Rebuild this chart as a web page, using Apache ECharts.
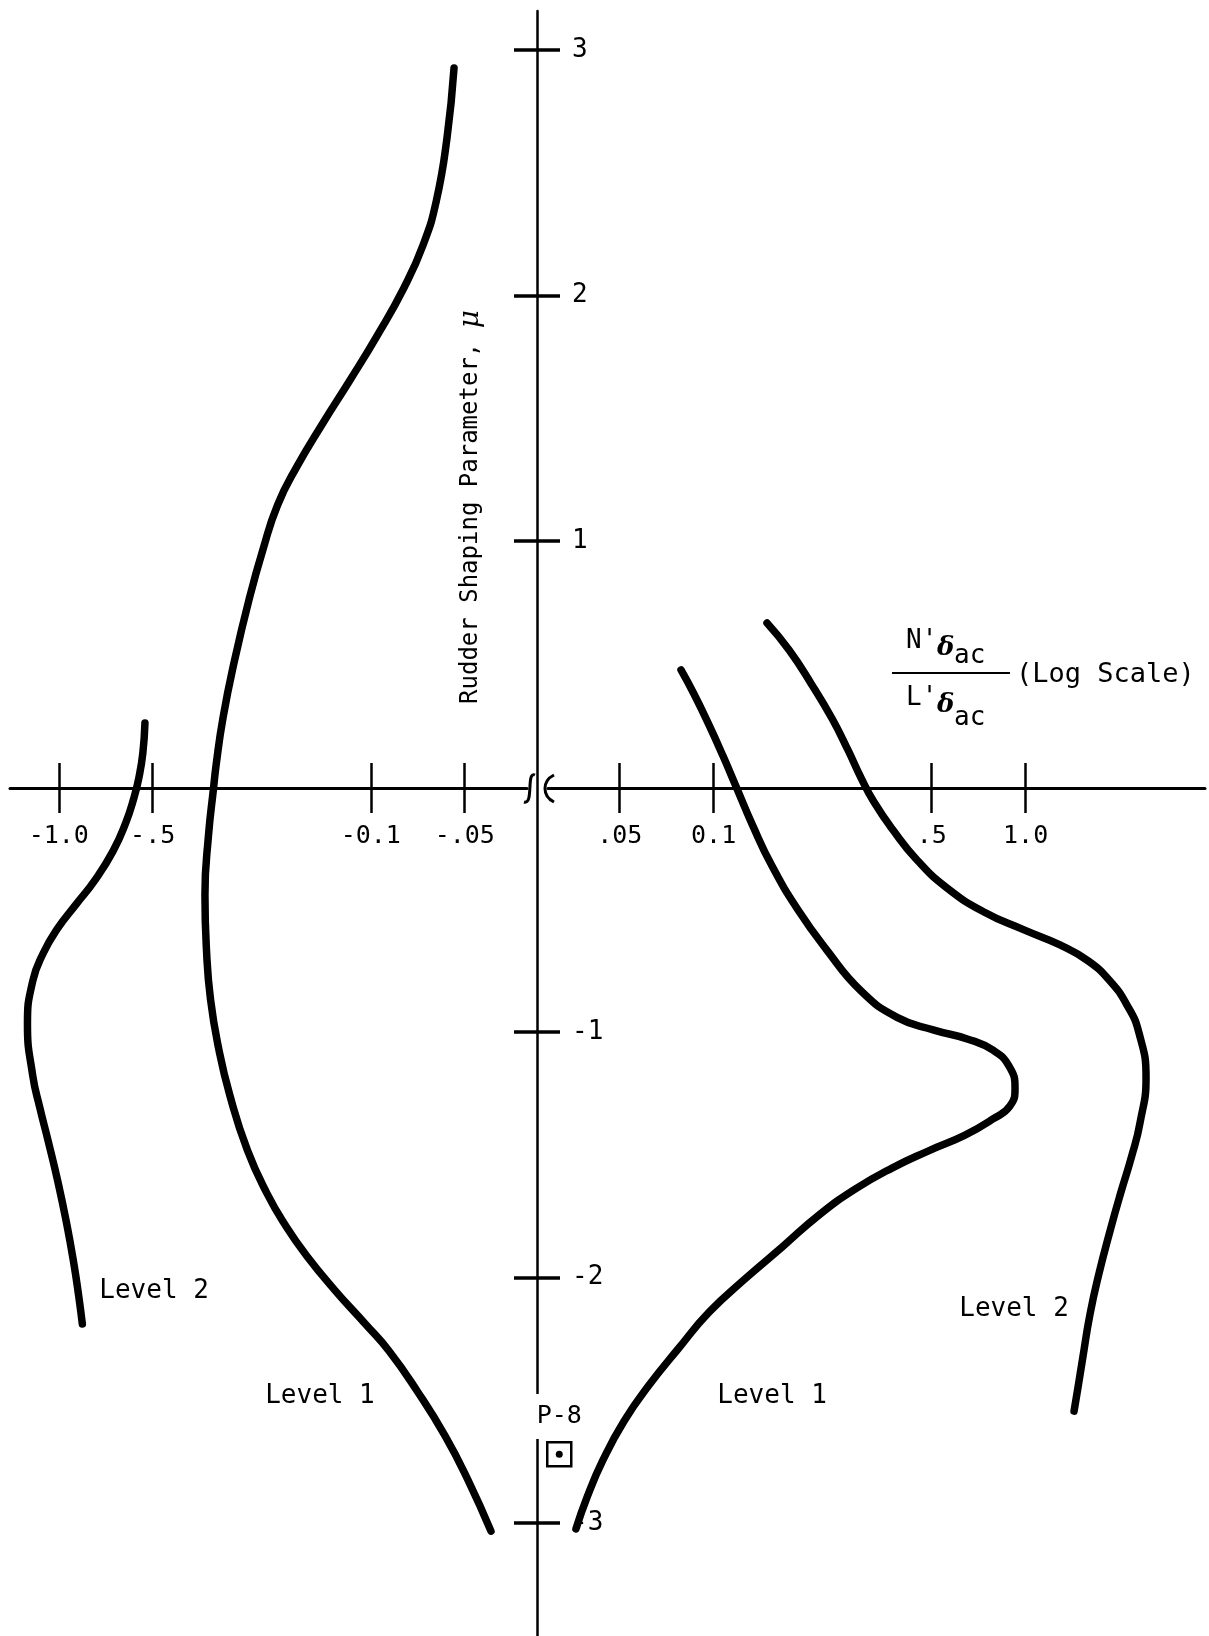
<!DOCTYPE html>
<html><head><meta charset="utf-8">
<script src="https://cdn.jsdelivr.net/npm/echarts@6/dist/echarts.min.js"></script>
<style>html,body{margin:0;padding:0;background:#fff}#c{width:1209px;height:1636px}</style>
</head><body><div id="c"></div>
<script>
// ---- tick values / labels ----
const xTicksNeg = [-1.0, -0.5, -0.1, -0.05];
const xTickLabelsNeg = ['-1.0', '-.5', '-0.1', '-.05'];
const xTicksPos = [0.05, 0.1, 0.5, 1.0];
const xTickLabelsPos = ['.05', '0.1', '.5', '1.0'];
const yTicks = [-3, -2, -1, 1, 2, 3];
const yTickLabels = ['-3', '-2', '-1', '1', '2', '3'];

// axis ranges (ratio N'δac/L'δac, log scale; μ)
const xRangeNeg = [-1.433, -0.03158];
const xRangePos = [0.02945, 3.758];
const yRange = [-3.46, 3.159];

// ---- boundary curves: x = N'δac/L'δac, y = μ ----
const level2LeftX = [-0.5294, -0.5377, -0.5538, -0.5745, -0.6105, -0.67, -0.7654, -0.8789, -1.0111, -1.1205, -1.2115, -1.2597, -1.2126, -1.149, -1.0831, -1.0074, -0.9454, -0.8952, -0.864, -0.8402];
const level2LeftY = [0.259, 0.136, 0.035, -0.047, -0.149, -0.263, -0.381, -0.479, -0.58, -0.678, -0.792, -0.967, -1.175, -1.31, -1.44, -1.607, -1.774, -1.941, -2.071, -2.189];

const level1LeftX = [-0.05411, -0.05699, -0.06167, -0.06798, -0.07834, -0.09559, -0.1165, -0.1423, -0.1729, -0.1989, -0.2214, -0.2444, -0.2732, -0.2977, -0.3134, -0.3191, -0.3312, -0.34, -0.3362, -0.3264, -0.3075, -0.2825, -0.2486, -0.2154, -0.1863, -0.1604, -0.1305, -0.1041, -0.0874, -0.0707, -0.0578, -0.0488, -0.0412];
const level1LeftY = [2.927, 2.642, 2.385, 2.206, 2.031, 1.835, 1.656, 1.481, 1.301, 1.147, 0.967, 0.772, 0.515, 0.279, 0.084, -0.006, -0.198, -0.442, -0.666, -0.866, -1.065, -1.261, -1.481, -1.656, -1.794, -1.912, -2.051, -2.189, -2.299, -2.466, -2.645, -2.825, -3.033];

const level1RightX = [0.0786, 0.0865, 0.0967, 0.1072, 0.1189, 0.1328, 0.1539, 0.1865, 0.2293, 0.2969, 0.3871, 0.5085, 0.6537, 0.7861, 0.8847, 0.9248, 0.8913, 0.7861, 0.6393, 0.4867, 0.373, 0.284, 0.2177, 0.1657, 0.127, 0.0967, 0.0769, 0.0621, 0.0516, 0.0442, 0.0393, 0.0362];
const level1RightY = [0.475, 0.377, 0.25, 0.124, -0.01, -0.153, -0.324, -0.503, -0.662, -0.833, -0.94, -0.992, -1.029, -1.074, -1.139, -1.228, -1.301, -1.354, -1.42, -1.485, -1.554, -1.64, -1.745, -1.876, -2.002, -2.141, -2.291, -2.438, -2.585, -2.743, -2.894, -3.024];

const level2RightX = [0.1483, 0.1745, 0.2052, 0.2396, 0.2697, 0.2969, 0.3266, 0.3758, 0.4486, 0.5598, 0.7356, 0.9882, 1.2888, 1.586, 1.8644, 2.1135, 2.309, 2.432, 2.3261, 2.1928, 2.0218, 1.8644, 1.7196, 1.6085, 1.5276, 1.4724, 1.4296];
const level2RightY = [0.666, 0.556, 0.42, 0.277, 0.148, 0.035, -0.063, -0.177, -0.299, -0.413, -0.511, -0.584, -0.645, -0.71, -0.792, -0.89, -1.004, -1.187, -1.37, -1.501, -1.651, -1.81, -1.982, -2.149, -2.32, -2.446, -2.544];

// data point P-8
const p8X = [0.032];
const p8Y = [-2.72];
const p8Name = ['P-8'];

// region labels
const regionText = ['Level 2', 'Level 1', 'Level 1', 'Level 2'];
const regionX = [-0.495, -0.1455, 0.1539, 0.918];
const regionY = [-2.055, -2.483, -2.483, -2.128];

// ---- helpers ----
const FONT = '"DejaVu Sans Mono", "Liberation Mono", monospace';
const L = v => Math.log10(Math.abs(v));
const pairs = (xs, ys) => xs.map((x, i) => [L(x), ys[i]]);
const fmt = (ticks, labels, tf) => v => {
  for (let i = 0; i < ticks.length; i++) if (Math.abs(tf(ticks[i]) - v) < 1e-6) return labels[i];
  return '';
};
const negL = xTicksNeg.map(L), posL = xTicksPos.map(L);

const tickStyle = {color: '#000', width: 2.5};
function xAxes(grid, range, inverse, tv, ticks, labels) {
  const a = L(range[0]), b = L(range[1]);
  const base = {
    gridIndex: grid, type: 'value', inverse: inverse,
    min: Math.min(a, b), max: Math.max(a, b),
    splitLine: {show: false}
  };
  return [
    Object.assign({}, base, {
      position: 'bottom', offset: -848,
      axisLine: {show: true, onZero: false, lineStyle: {color: '#000', width: 3}},
      axisTick: {show: true, customValues: tv, length: 25, lineStyle: tickStyle},
      axisLabel: {show: true, customValues: tv, formatter: fmt(ticks, labels, L), margin: 36,
                  fontSize: 25, fontFamily: FONT, color: '#000'}
    }),
    Object.assign({}, base, {
      position: 'top', offset: -777,
      axisLine: {show: false, onZero: false},
      axisTick: {show: true, customValues: tv, length: 25, lineStyle: tickStyle},
      axisLabel: {show: false}
    })
  ];
}

const chart = echarts.init(document.getElementById('c'), null, {renderer: 'canvas'});
const lineStyle = {color: '#000', width: 7.5, cap: 'round', join: 'round'};
const curve = (name, xs, ys, xi, yi) => ({
  name, type: 'line', xAxisIndex: xi, yAxisIndex: yi, data: pairs(xs, ys),
  smooth: 0.5, symbol: 'none', lineStyle, z: 3, silent: true
});
const textLabel = {show: true, position: 'inside', formatter: '{b}', fontSize: 26, fontFamily: FONT,
                   color: '#000', opacity: 1};

chart.setOption({
  animation: false,
  backgroundColor: '#fff',
  grid: [
    {left: 10, right: 682, top: 11, bottom: 0},
    {left: 548, right: 4, top: 11, bottom: 0}
  ],
  xAxis: [].concat(
    xAxes(0, xRangeNeg, true, negL, xTicksNeg, xTickLabelsNeg),
    xAxes(1, xRangePos, false, posL, xTicksPos, xTickLabelsPos)
  ),
  yAxis: [
    {
      gridIndex: 0, type: 'value', position: 'right', offset: 10,
      min: yRange[0], max: yRange[1], splitLine: {show: false},
      axisLine: {show: true, onZero: false, lineStyle: {color: '#000', width: 2.5}},
      axisTick: {show: true, customValues: yTicks, length: 23, lineStyle: {color: '#000', width: 3.5}},
      axisLabel: {show: true, customValues: yTicks, formatter: fmt(yTicks, yTickLabels, v => v),
                  margin: 35, fontSize: 26, fontFamily: FONT, color: '#000'}
    },
    {
      gridIndex: 1, type: 'value', position: 'left', offset: 11,
      min: yRange[0], max: yRange[1], splitLine: {show: false},
      axisLine: {show: false, onZero: false},
      axisTick: {show: true, customValues: yTicks, length: 23, lineStyle: {color: '#000', width: 3.5}},
      axisLabel: {show: false}
    }
  ],
  series: [
    curve('Level 2 (left)', level2LeftX, level2LeftY, 0, 0),
    curve('Level 1 (left)', level1LeftX, level1LeftY, 0, 0),
    curve('Level 1 (right)', level1RightX, level1RightY, 2, 1),
    curve('Level 2 (right)', level2RightX, level2RightY, 2, 1),
    {
      name: 'P-8', type: 'scatter', xAxisIndex: 2, yAxisIndex: 1,
      data: p8X.map((x, i) => ({value: [L(x), p8Y[i]], name: p8Name[i]})),
      symbol: 'rect', symbolSize: 24, z: 4,
      itemStyle: {color: '#fff', borderColor: '#000', borderWidth: 2.5, opacity: 1},
      label: {show: true, position: 'top', distance: 2, formatter: '{b}', fontSize: 25, opacity: 1,
              fontFamily: FONT, color: '#000', backgroundColor: '#fff', padding: [10, 3]}
    },
    {
      name: 'P-8 dot', type: 'scatter', xAxisIndex: 2, yAxisIndex: 1,
      data: p8X.map((x, i) => [L(x), p8Y[i]]),
      symbol: 'circle', symbolSize: 7, z: 5, itemStyle: {color: '#000', opacity: 1}
    },
    {
      name: 'regions L', type: 'scatter', xAxisIndex: 0, yAxisIndex: 0,
      data: regionX.map((x, i) => ({value: [L(x), regionY[i]], name: regionText[i]})).slice(0, 2),
      symbolSize: 1, itemStyle: {color: '#fff', opacity: 1}, label: textLabel
    },
    {
      name: 'regions R', type: 'scatter', xAxisIndex: 2, yAxisIndex: 1,
      data: regionX.map((x, i) => ({value: [L(x), regionY[i]], name: regionText[i]})).slice(2),
      symbolSize: 1, itemStyle: {color: '#fff', opacity: 1}, label: textLabel
    }
  ],
  graphic: [
    // axis title
    {type: 'text', x: 471, y: 507, rotation: Math.PI / 2, z: 10,
     style: {text: '{a|Rudder Shaping Parameter, }{m|μ}', align: 'center', verticalAlign: 'middle',
             rich: {a: {fontSize: 24, fontFamily: FONT, fill: '#000'},
                    m: {fontSize: 28, fontFamily: 'DejaVu Serif', fontStyle: 'italic', fill: '#000'}}}},
    // x-axis quantity (fraction)
    {type: 'text', x: 906, y: 641, style: {text: "N'", fontSize: 26, fontFamily: FONT, fill: '#000', verticalAlign: 'middle'}},
    {type: 'text', x: 937, y: 648, style: {text: 'δ', fontSize: 26, fontFamily: 'DejaVu Serif', fontStyle: 'italic', fontWeight: 'bold', fill: '#000', verticalAlign: 'middle'}},
    {type: 'text', x: 954, y: 656, style: {text: 'ac', fontSize: 26, fontFamily: FONT, fill: '#000', verticalAlign: 'middle'}},
    {type: 'line', shape: {x1: 892, y1: 673, x2: 1010, y2: 673}, style: {stroke: '#000', lineWidth: 2}},
    {type: 'text', x: 906, y: 698, style: {text: "L'", fontSize: 26, fontFamily: FONT, fill: '#000', verticalAlign: 'middle'}},
    {type: 'text', x: 937, y: 705, style: {text: 'δ', fontSize: 26, fontFamily: 'DejaVu Serif', fontStyle: 'italic', fontWeight: 'bold', fill: '#000', verticalAlign: 'middle'}},
    {type: 'text', x: 954, y: 718, style: {text: 'ac', fontSize: 26, fontFamily: FONT, fill: '#000', verticalAlign: 'middle'}},
    {type: 'text', x: 1016, y: 675, style: {text: '(Log Scale)', fontSize: 27, fontFamily: FONT, fill: '#000', verticalAlign: 'middle'}},
    // axis break marks
    {type: 'bezierCurve', shape: {x1: 535, y1: 775, cpx1: 526, cpy1: 771, cpx2: 534, cpy2: 805, x2: 524, y2: 802},
     style: {stroke: '#000', lineWidth: 3, fill: null}},
    {type: 'bezierCurve', shape: {x1: 554, y1: 775, cpx1: 542, cpy1: 781, cpx2: 542, cpy2: 796, x2: 554, y2: 802},
     style: {stroke: '#000', lineWidth: 3, fill: null}}
  ]
});
</script></body></html>
